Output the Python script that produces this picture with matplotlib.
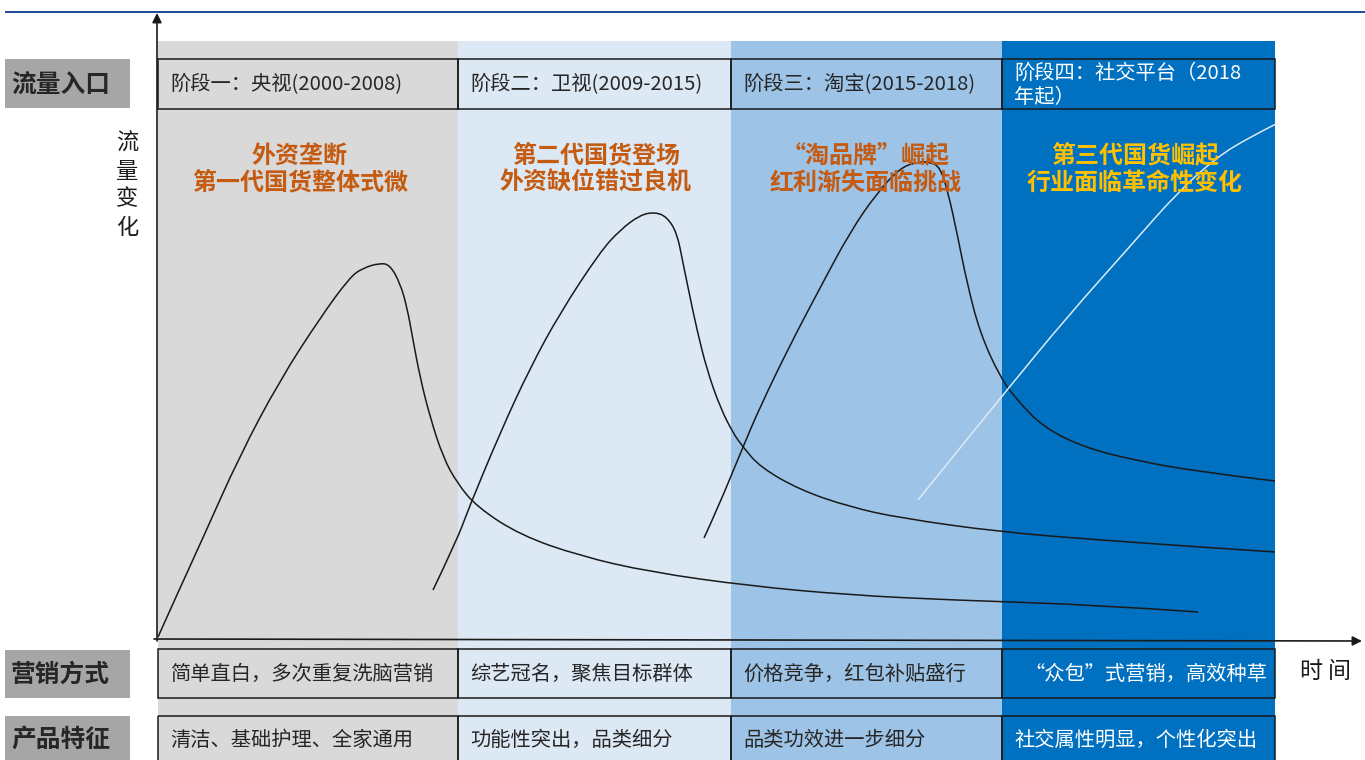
import matplotlib
matplotlib.use("Agg")
import matplotlib.pyplot as plt
from matplotlib.patches import Rectangle, PathPatch
from matplotlib.path import Path

plt.rcParams['font.family'] = ['Noto Sans CJK SC', 'DejaVu Sans']

# ---- content -------------------------------------------------------------
stage_titles = ["阶段一：央视(2000-2008)", "阶段二：卫视(2009-2015)",
                "阶段三：淘宝(2015-2018)", "阶段四：社交平台（2018\n年起）"]
stage_headlines = ["外资垄断\n第一代国货整体式微", "第二代国货登场\n外资缺位错过良机",
                   "“淘品牌”崛起\n红利渐失面临挑战", "第三代国货崛起\n行业面临革命性变化"]
marketing = ["简单直白，多次重复洗脑营销", "综艺冠名，聚焦目标群体",
             "价格竞争，红包补贴盛行", "“众包”式营销，高效种草"]
product = ["清洁、基础护理、全家通用", "功能性突出，品类细分",
           "品类功效进一步细分", "社交属性明显，个性化突出"]
row_labels = ["流量入口", "营销方式", "产品特征"]
y_label = "流量变化"
x_label = "时 间"

# traffic curves for each generation (time, traffic; screen units, y grows downward)
c1_x = [158, 180, 202, 240, 280, 320, 350, 363, 380, 390, 400, 407, 413, 420, 430, 443,
        457, 477, 520, 580, 650, 750, 850, 950, 1100, 1198]
c1_y = [637, 588, 540, 455, 380, 318, 277, 268, 263, 265, 283, 307, 340, 377, 417, 457,
        483, 507, 535, 556, 572, 586, 595, 600, 605, 612]
c2_x = [433, 457, 468, 500, 530, 560, 600, 620, 640, 655, 667, 677, 683, 690, 697, 707,
        720, 733, 743, 760, 800, 850, 900, 1000, 1100, 1200, 1275]
c2_y = [590, 540, 510, 433, 368, 313, 252, 230, 215, 212, 217, 233, 263, 297, 330, 370,
        407, 433, 447, 467, 490, 507, 518, 532, 540, 547, 552]
c3_x = [704, 717, 743, 760, 790, 820, 850, 877, 900, 917, 930, 940, 948, 957, 967, 980,
        1000, 1017, 1043, 1083, 1133, 1200, 1275]
c3_y = [538, 510, 447, 407, 345, 288, 232, 193, 168, 162, 162, 167, 192, 233, 283, 333,
        377, 400, 427, 447, 460, 472, 481]
c4_x = [918, 960, 1007, 1067, 1133, 1177, 1217, 1250, 1276]
c4_y = [500, 448, 390, 317, 243, 193, 157, 137, 124]

# ---- layout ----------------------------------------------------------------
band_edges = [158, 458, 731, 1002, 1275]
band_colors = ["#D9D9D9", "#DDE8F5", "#9DC3E6", "#0070C0"]
text_colors = ["#262626", "#262626", "#262626", "#FFFFFF"]
headline_colors = ["#C55A11", "#C55A11", "#C55A11", "#FFC000"]
headline_x = [300, 596, 866, 1135]


def smooth_path(xs, ys):
    """Quadratic B-spline style path: the listed points act as control
    points, segments meet halfway between neighbours."""
    pts = list(zip(xs, ys))
    verts = [pts[0]]
    codes = [Path.MOVETO]
    for i in range(1, len(pts) - 1):
        mid = ((pts[i][0] + pts[i + 1][0]) / 2, (pts[i][1] + pts[i + 1][1]) / 2)
        if i == len(pts) - 2:
            mid = pts[-1]
        verts += [pts[i], mid]
        codes += [Path.CURVE3, Path.CURVE3]
    return Path(verts, codes)


fig = plt.figure(figsize=(13.65, 7.6), dpi=100)
ax = fig.add_axes([0, 0, 1, 1])
ax.set_xlim(0, 1365)
ax.set_ylim(760, 0)
ax.axis("off")

# top rule
ax.plot([5, 1365], [12, 12], color="#0B3A8F", lw=1.3, solid_capstyle="butt")

# coloured stage bands
for i in range(4):
    x0, x1 = band_edges[i], band_edges[i + 1]
    ax.add_patch(Rectangle((x0, 41), x1 - x0, 760 - 41, facecolor=band_colors[i],
                           edgecolor="none", zorder=0))

# table rows: header, marketing, product
rows = [(59, 109, stage_titles, 14.6), (649, 698, marketing, 14.6),
        (716, 762, product, 14.6)]
for (top, bot, texts, fs) in rows:
    for i in range(4):
        x0, x1 = band_edges[i], band_edges[i + 1]
        ax.add_patch(Rectangle((x0, top), x1 - x0, bot - top, facecolor="none",
                               edgecolor="#1A1A1A", lw=1.1, zorder=3))
        tx = x0 + 12
        if texts is marketing and i == 3:
            tx = x0 + 22
        ax.text(tx, (top + bot) / 2 + 1, texts[i], fontsize=fs, color=text_colors[i],
                ha="left", va="center", zorder=4, linespacing=1.2)

# row labels on the left
for (top, bot), lab in zip([(59, 108), (650, 698), (716, 762)], row_labels):
    ax.add_patch(Rectangle((5, top), 125, bot - top, facecolor="#A6A6A6",
                           edgecolor="none", zorder=2))
    ax.text(11, (top + bot) / 2 + 1, lab, fontsize=17.8, fontweight="bold",
            color="#262626", ha="left", va="center", zorder=4)

# stage headlines
for i in range(4):
    ax.text(headline_x[i], 169, stage_headlines[i], fontsize=17.3, fontweight="bold",
            color=headline_colors[i], ha="center", va="center", linespacing=1.15, zorder=5)

# traffic curves
for cx, cy in [(c1_x, c1_y), (c2_x, c2_y), (c3_x, c3_y)]:
    ax.add_patch(PathPatch(smooth_path(cx, cy), facecolor="none", edgecolor="#1A1A1A",
                           lw=1.1, zorder=2))
ax.add_patch(PathPatch(smooth_path(c4_x, c4_y), facecolor="none", edgecolor="#DDEBF7",
                       lw=1.1, zorder=2))

# axes with arrow heads
ax.annotate("", xy=(157, 13), xytext=(157, 641),
            arrowprops=dict(arrowstyle="-|>", color="#1A1A1A", lw=1.2,
                            mutation_scale=14, shrinkA=0, shrinkB=0), zorder=6)
ax.annotate("", xy=(1362, 641), xytext=(154, 639),
            arrowprops=dict(arrowstyle="-|>", color="#1A1A1A", lw=1.2,
                            mutation_scale=14, shrinkA=0, shrinkB=0), zorder=6)

# axis titles
for k, ch in enumerate(y_label):
    ax.text(127, 143 + 28 * k, ch, fontsize=16, color="#1A1A1A",
            ha="center", va="center")
ax.text(1325, 672, x_label, fontsize=16.5, color="#1A1A1A", ha="center", va="center")

fig.savefig("out.png", dpi=100, facecolor="white")
